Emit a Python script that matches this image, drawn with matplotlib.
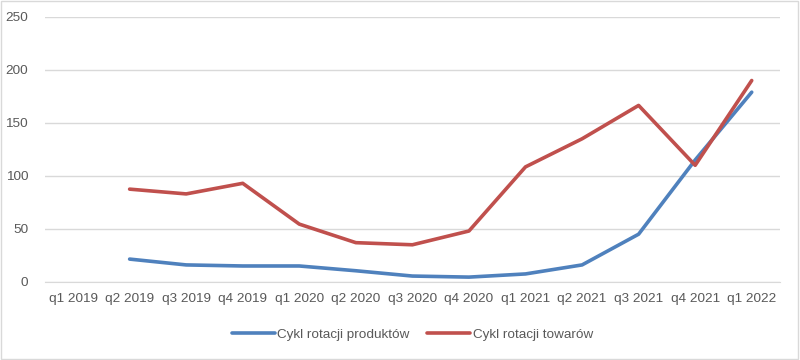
import numpy as np
import matplotlib.pyplot as plt

quarters = ["q1 2019", "q2 2019", "q3 2019", "q4 2019", "q1 2020", "q2 2020", "q3 2020",
            "q4 2020", "q1 2021", "q2 2021", "q3 2021", "q4 2021", "q1 2022"]
produkty = [np.nan, 21.5, 16, 15, 15, 10.5, 5.5, 4.5, 7.5, 16, 45, 115, 179]
towary = [np.nan, 87.5, 83, 93, 54.5, 37, 35, 48, 108.5, 135, 166.5, 110, 190]

plt.rcParams['font.family'] = ['Liberation Sans', 'DejaVu Sans']

fig = plt.figure(figsize=(8, 3.6), dpi=100)
ax = fig.add_axes([0.056, 0.217, 0.919, 0.736])

x = np.arange(len(quarters))
ax.plot(x, produkty, color='#4F81BD', lw=2.6, solid_capstyle='round', label='Cykl rotacji produktów')
ax.plot(x, towary, color='#C0504D', lw=2.6, solid_capstyle='round', label='Cykl rotacji towarów')

ax.set_xlim(-0.5, len(quarters) - 0.5)
ax.set_ylim(0, 250)
ax.set_yticks(range(0, 251, 50))
ax.set_xticks(x)
ax.set_xticklabels(quarters)
ax.grid(axis='y', color='#D9D9D9', lw=1)
ax.set_axisbelow(True)
for s in ax.spines.values():
    s.set_visible(False)
ax.spines['bottom'].set_visible(True)
ax.spines['bottom'].set_color('#D9D9D9')
ax.tick_params(length=0, labelsize=9.7, colors='#595959', pad=8)
ax.tick_params(axis='y', pad=12)

ax.legend(loc='upper center', bbox_to_anchor=(0.5, -0.13), ncol=2, frameon=False,
          fontsize=9.7, labelcolor='#595959', handlelength=3.2, columnspacing=1.3, handletextpad=0.2)

fig.patches.append(plt.Rectangle((0.001, 0.002), 0.997, 0.995, transform=fig.transFigure,
                                 fill=False, edgecolor='#D9D9D9', lw=1))
fig.savefig('out.png', dpi=100, facecolor='white')
